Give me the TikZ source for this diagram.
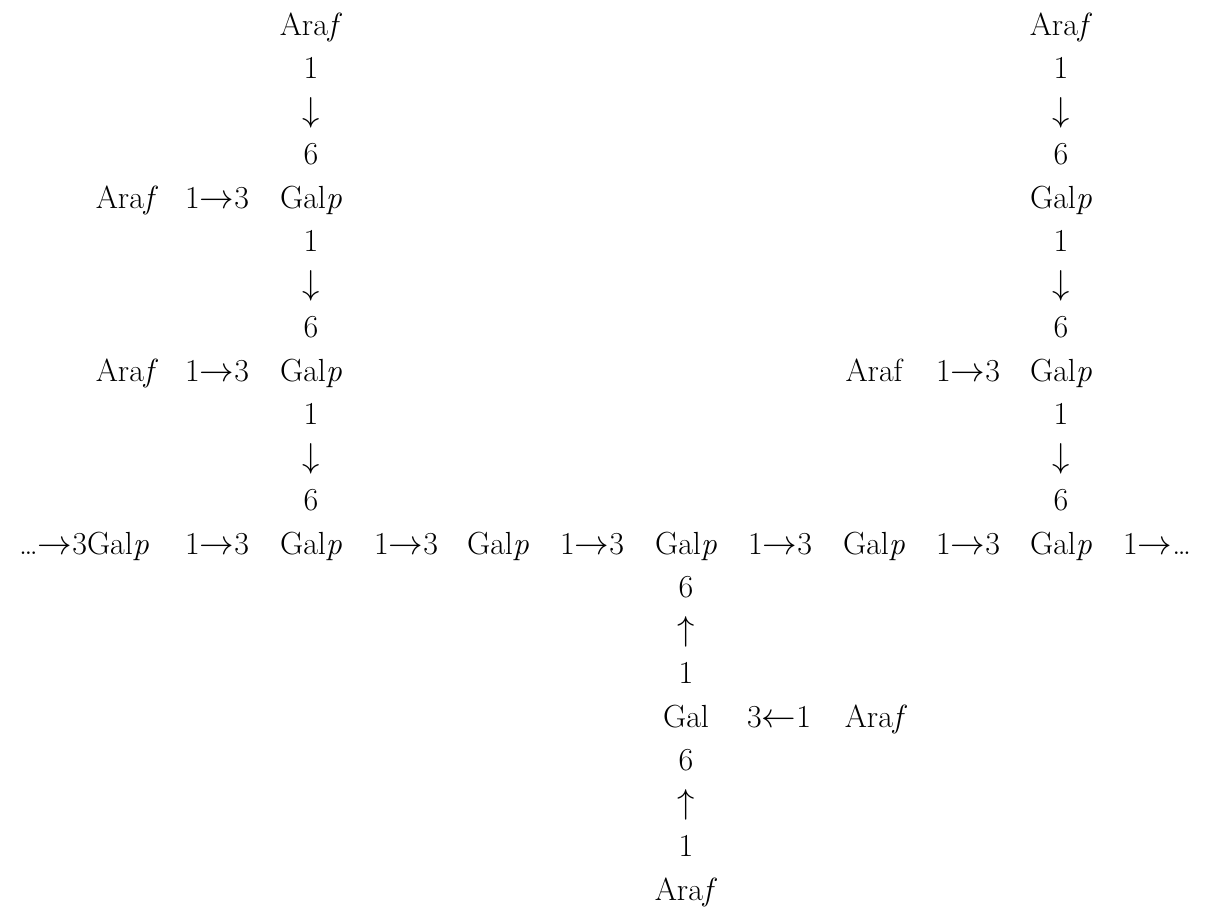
\documentclass[tikz,border=0pt]{standalone}
\begin{document}
\begin{tikzpicture}[x=0.5pt,y=-0.5pt,
  lbl/.style={anchor=base,inner sep=0pt,font=\fontsize{16}{19}\selectfont}]
\useasboundingbox (0,0) rectangle (1208,906);
\def\R#1{{35+43.25*#1}}
% left chain (column x=311)
\node[lbl] (lA0) at (311,\R{0}) {Ara\textit{f}};
\node[lbl] (l1a) at (311,\R{1}) {1};
\node[lbl] (lda) at (311,\R{2}) {$\downarrow$};
\node[lbl] (l6a) at (311,\R{3}) {6};
\node[lbl] (lAr4) at (127,\R{4}) {Ara\textit{f}};
\node[lbl] (lL4) at (217,\R{4}) {1$\rightarrow$3};
\node[lbl] (lG4) at (311,\R{4}) {Gal\textit{p}};
\node[lbl] (l1b) at (311,\R{5}) {1};
\node[lbl] (ldb) at (311,\R{6}) {$\downarrow$};
\node[lbl] (l6b) at (311,\R{7}) {6};
\node[lbl] (lAr8) at (127,\R{8}) {Ara\textit{f}};
\node[lbl] (lL8) at (217,\R{8}) {1$\rightarrow$3};
\node[lbl] (lG8) at (311,\R{8}) {Gal\textit{p}};
\node[lbl] (l1c) at (311,\R{9}) {1};
\node[lbl] (ldc) at (311,\R{10}) {$\downarrow$};
\node[lbl] (l6c) at (311,\R{11}) {6};
% right chain (column x=1061)
\node[lbl] (rA0) at (1061,\R{0}) {Ara\textit{f}};
\node[lbl] (r1a) at (1061,\R{1}) {1};
\node[lbl] (rda) at (1061,\R{2}) {$\downarrow$};
\node[lbl] (r6a) at (1061,\R{3}) {6};
\node[lbl] (rG4) at (1061,\R{4}) {Gal\textit{p}};
\node[lbl] (r1b) at (1061,\R{5}) {1};
\node[lbl] (rdb) at (1061,\R{6}) {$\downarrow$};
\node[lbl] (r6b) at (1061,\R{7}) {6};
\node[lbl] (rAr8) at (874,\R{8}) {Araf};
\node[lbl] (rL8) at (968,\R{8}) {1$\rightarrow$3};
\node[lbl] (rG8) at (1061,\R{8}) {Gal\textit{p}};
\node[lbl] (r1c) at (1061,\R{9}) {1};
\node[lbl] (rdc) at (1061,\R{10}) {$\downarrow$};
\node[lbl] (r6c) at (1061,\R{11}) {6};
% main backbone row
\node[lbl] (m1) at (84,\R{12}) {\ldots$\rightarrow$3Gal\textit{p}};
\node[lbl] (m2) at (217,\R{12}) {1$\rightarrow$3};
\node[lbl] (m3) at (311,\R{12}) {Gal\textit{p}};
\node[lbl] (m4) at (406,\R{12}) {1$\rightarrow$3};
\node[lbl] (m5) at (498,\R{12}) {Gal\textit{p}};
\node[lbl] (m6) at (592,\R{12}) {1$\rightarrow$3};
\node[lbl] (m7) at (686,\R{12}) {Gal\textit{p}};
\node[lbl] (m8) at (780,\R{12}) {1$\rightarrow$3};
\node[lbl] (m9) at (874,\R{12}) {Gal\textit{p}};
\node[lbl] (m10) at (968,\R{12}) {1$\rightarrow$3};
\node[lbl] (m11) at (1061,\R{12}) {Gal\textit{p}};
\node[lbl] (m12) at (1157,\R{12}) {1$\rightarrow$\ldots};
% bottom chain (column x=686)
\node[lbl] (b6a) at (686,\R{13}) {6};
\node[lbl] (bua) at (686,\R{14}) {$\uparrow$};
\node[lbl] (b1a) at (686,\R{15}) {1};
\node[lbl] (bG) at (686,\R{16}) {Gal};
\node[lbl] (bL) at (779,\R{16}) {3$\leftarrow$1};
\node[lbl] (bAr) at (876,\R{16}) {Ara\textit{f}};
\node[lbl] (b6b) at (686,\R{17}) {6};
\node[lbl] (bub) at (686,\R{18}) {$\uparrow$};
\node[lbl] (b1b) at (686,\R{19}) {1};
\node[lbl] (bA) at (686,\R{20}) {Ara\textit{f}};
\end{tikzpicture}
\end{document}
